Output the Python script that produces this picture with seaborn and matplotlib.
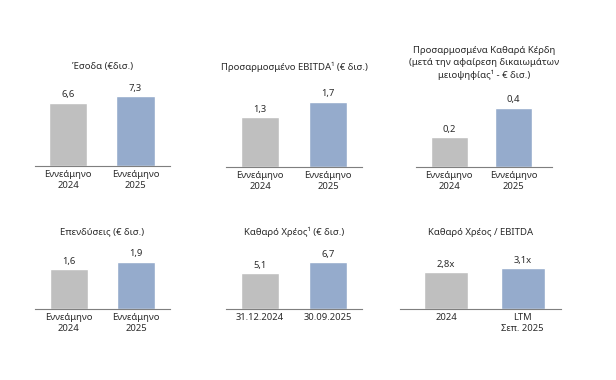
import numpy as np
import pandas as pd
import seaborn as sns
import matplotlib.pyplot as plt

sns.set_theme(style="white")
plt.rcParams['font.family'] = ['Noto Sans', 'DejaVu Sans']

# panel data
titles = [
    "Έσοδα (€δισ.)",
    "Προσαρμοσμένο EBITDA¹ (€ δισ.)",
    "Προσαρμοσμένα Καθαρά Κέρδη\n(μετά την αφαίρεση δικαιωμάτων\nμειοψηφίας¹ - € δισ.)",
    "Επενδύσεις (€ δισ.)",
    "Καθαρό Χρέος¹ (€ δισ.)",
    "Καθαρό Χρέος / EBITDA",
]
cats_9m = ["Εννεάμηνο\n2024", "Εννεάμηνο\n2025"]
cats_debt = ["31.12.2024", "30.09.2025"]
cats_lev = ["2024", "LTM\nΣεπ. 2025"]
categories = [cats_9m, cats_9m, cats_9m, cats_9m, cats_debt, cats_lev]

revenue = [6.6, 7.3]
ebitda = [1.3, 1.7]
net_profit = [0.2, 0.4]
capex = [1.6, 1.9]
net_debt = [5.1, 6.7]
leverage = [2.8, 3.1]
values = [revenue, ebitda, net_profit, capex, net_debt, leverage]
suffix = ["", "", "", "", "", "x"]

# layout (pixels in a 616x380 figure): left, baseline, width, axes height
W, H = 616, 380
boxes = [
    (35, 166, 135), (226, 167, 136), (416, 167, 136),
    (35, 309, 135), (226, 309, 136), (400, 309, 161),
]
ax_h = 80
ylims = [8.34, 2.09, 0.542, 3.23, 11.4, 6.05]
xlims = [(-0.49, 1.51), (-0.5, 1.5), (-0.52, 1.6),
         (-0.5, 1.5), (-0.5, 1.5), (-0.6, 1.5)]
title_y = [1.25, 1.25, 1.30, 0.96, 0.96, 0.96]

grey = "#bfbfbf"
blue = "#95abcc"
txt = "#2b2b2b"

fig = plt.figure(figsize=(6.16, 3.80), dpi=100)

for i in range(6):
    left, base, wid = boxes[i]
    ax = fig.add_axes([left / W, (H - base) / H, wid / W, ax_h / H])
    df = pd.DataFrame({"cat": categories[i], "val": values[i]})
    sns.barplot(data=df, x="cat", y="val", hue="cat", palette=[grey, blue],
                saturation=1, width=0.57, legend=False, ax=ax)
    ax.set_ylim(0, ylims[i])
    ax.set_xlim(*xlims[i])
    sfx = suffix[i]
    for c in ax.containers:
        ax.bar_label(c, fmt=lambda v, s=sfx: f"{v:.1f}".replace(".", ",") + s,
                     padding=2.5, fontsize=6.8, color=txt)
    for s in ["top", "right", "left"]:
        ax.spines[s].set_visible(False)
    ax.spines["bottom"].set_color("#7f7f7f")
    ax.spines["bottom"].set_linewidth(0.8)
    ax.set_yticks([])
    ax.set_xlabel("")
    ax.set_ylabel("")
    ax.tick_params(axis="x", length=0, pad=3, labelsize=6.8, labelcolor=txt)
    ax.text(0.5, title_y[i], titles[i], transform=ax.transAxes, ha="center",
            va="center", fontsize=6.9, color=txt, linespacing=1.45)

fig.savefig("out.png", dpi=100, facecolor="white")
